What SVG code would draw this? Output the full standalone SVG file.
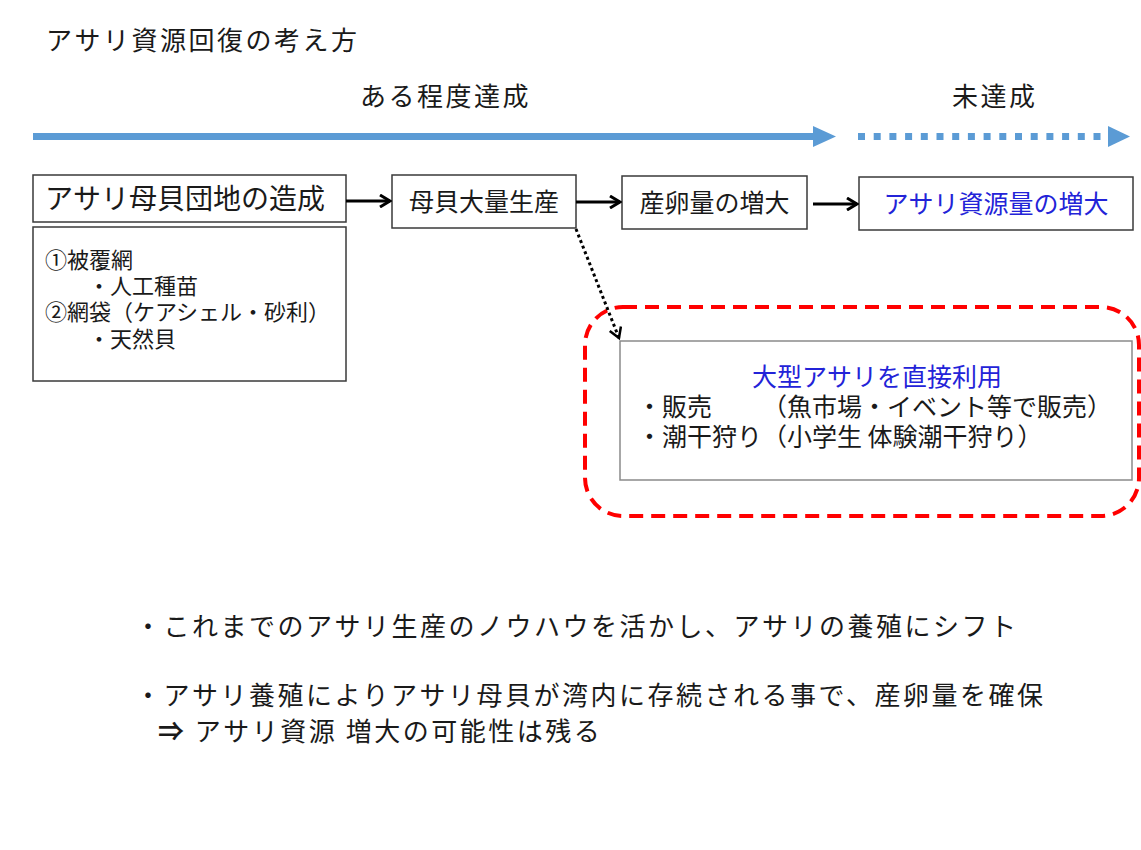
<svg xmlns="http://www.w3.org/2000/svg" width="1141" height="850" viewBox="0 0 1141 850">
<style>
text{font-family:"Noto Sans CJK JP","Noto Sans CJK SC",sans-serif;fill:#1a1a1a}
.t26{font-size:26px;letter-spacing:2.5px}
.t28{font-size:28px}
.t25{font-size:25px}
.t22{font-size:22px}
.blue{fill:#2323d8}
.box{fill:#fff;stroke:#3a3a3a;stroke-width:1.5}
.gbox{fill:#fff;stroke:#8a8a8a;stroke-width:1.5}
.conn{stroke:#000;stroke-width:3;fill:none}
.bl{stroke:#5b9bd5;stroke-width:7;fill:none}
</style>
<defs>
<marker id="ah" markerUnits="userSpaceOnUse" viewBox="0 0 14 14" refX="12" refY="7" markerWidth="14" markerHeight="14" orient="auto">
<path d="M2,1 L12,7 L2,13" fill="none" stroke="#000" stroke-width="3"/>
</marker>
<marker id="ah2" markerUnits="userSpaceOnUse" viewBox="0 0 14 14" refX="12" refY="7" markerWidth="14" markerHeight="14" orient="auto">
<path d="M2,1 L12,7 L2,13" fill="none" stroke="#000" stroke-width="2.5"/>
</marker>
</defs>
<rect width="1141" height="850" fill="#fff"/>
<text class="t26" x="46" y="50">アサリ資源回復の考え方</text>
<text class="t26" x="360" y="106">ある程度達成</text>
<text class="t26" x="952" y="106">未達成</text>
<g id="timeline">
<line class="bl" x1="33" y1="136.5" x2="814" y2="136.5"/>
<polygon points="813,126 836,136.5 813,147" fill="#5b9bd5"/>
<line class="bl" x1="858" y1="136.5" x2="1108" y2="136.5" stroke-dasharray="7 8.7"/>
<polygon points="1108,126 1130,136.5 1108,147" fill="#5b9bd5"/>
</g>
<g id="n1"><rect class="box" x="33" y="175" width="313" height="47"/><text class="t28" x="45" y="209">アサリ母貝団地の造成</text></g>
<g id="n1sub"><rect class="box" x="33" y="227" width="313" height="154"/>
<text class="t22" x="45" y="268">①被覆網</text>
<text class="t22" x="88" y="294">・人工種苗</text>
<text class="t22" x="45" y="320">②網袋（ケアシェル・砂利）</text>
<text class="t22" x="88" y="347">・天然貝</text></g>
<g id="n2"><rect class="box" x="392" y="175" width="184" height="53"/><text class="t25" x="484" y="211" text-anchor="middle">母貝大量生産</text></g>
<g id="n3"><rect class="box" x="622" y="176" width="185" height="53"/><text class="t25" x="714.5" y="212" text-anchor="middle">産卵量の増大</text></g>
<g id="n4"><rect class="box" x="859" y="177" width="274" height="53"/><text class="t25 blue" x="996" y="213" text-anchor="middle">アサリ資源量の増大</text></g>
<g id="n5">
<rect x="585" y="307" width="554" height="209" rx="38" fill="none" stroke="#ff0000" stroke-width="4" stroke-dasharray="14 8"/>
<rect class="gbox" x="620" y="341" width="512" height="139"/>
<text class="t25 blue" x="877" y="386" text-anchor="middle">大型アサリを直接利用</text>
<text class="t25" x="637" y="416">・販売<tspan x="762">（魚市場・イベント等で販売）</tspan></text>
<text class="t25" x="637" y="446">・潮干狩り（小学生 体験潮干狩り）</text>
</g>
<g id="connectors">
<line class="conn" x1="346" y1="201" x2="390" y2="201" marker-end="url(#ah)"/>
<line class="conn" x1="576" y1="202" x2="620" y2="202" marker-end="url(#ah)"/>
<line class="conn" x1="813" y1="204" x2="857" y2="204" marker-end="url(#ah)"/>
<line x1="576" y1="229" x2="619" y2="338" stroke="#000" stroke-width="3" stroke-dasharray="3 3" marker-end="url(#ah2)"/>
</g>
<text class="t26" x="135" y="636">・これまでのアサリ生産のノウハウを活かし、アサリの養殖にシフト</text>
<text class="t26" x="135" y="705">・アサリ養殖によりアサリ母貝が湾内に存続される事で、産卵量を確保</text>
<text class="t26" x="158" y="741"><tspan font-weight="bold">⇒</tspan> アサリ資源 増大の可能性は残る</text>
</svg>
